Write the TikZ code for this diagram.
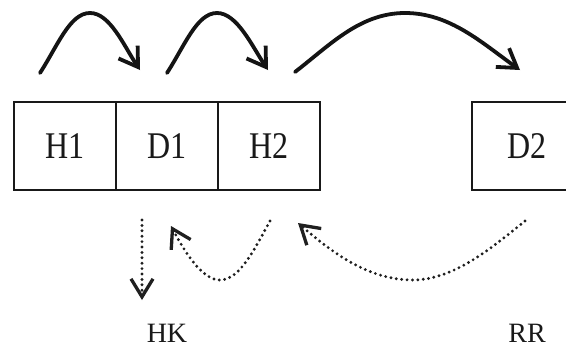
\documentclass[tikz,border=0pt]{standalone}
\usepackage{fontspec}
\usepackage{graphicx}
\setmainfont{Liberation Serif}
\usetikzlibrary{arrows.meta}
\begin{document}
\begin{tikzpicture}[x=1pt,y=-1pt,
  cell/.style={draw=black!90, line width=2pt, fill=white,
    minimum width=102pt, minimum height=88pt, inner sep=0pt,
    font=\fontsize{37.7}{40}\selectfont, text=black!90},
  lbl/.style={font=\fontsize{28}{30}\selectfont, text=black!90,
    anchor=base, inner sep=0pt},
  jump/.style={draw=black!92, line width=3.8pt, line cap=round,
    -{Straight Barb[length=18pt,width=23pt,line width=3.8pt]}},
  back/.style={draw=black!88, line width=3.2pt, line cap=round,
    dash pattern=on 0pt off 5.4pt,
    -{Straight Barb[length=18pt,width=22pt,line width=3.3pt]}}]
  \useasboundingbox (0,0) rectangle (566,351);

  % cells of the record
  \node[cell] (h1) at (65,146)  {\scalebox{0.85}[1]{H1}};
  \node[cell] (d1) at (167,146) {\scalebox{0.85}[1]{D1}};
  \node[cell] (h2) at (269,146) {\scalebox{0.85}[1]{H2}};
  \node[cell, minimum width=110pt] (d2) at (527,146) {\scalebox{0.85}[1]{D2}};

  % labels below
  \node[lbl] (hk) at (167,342) {HK};
  \node[lbl] (rr) at (527,342) {RR};

  % end points of the connectors
  \coordinate (t1s) at (40,73);   \coordinate (t1e) at (140,70);
  \coordinate (t2s) at (167,73);  \coordinate (t2e) at (268,70);
  \coordinate (t3s) at (295,72);  \coordinate (t3e) at (520,70);
  \coordinate (b1s) at (142,220); \coordinate (b1e) at (142,300);
  \coordinate (b2s) at (270,221); \coordinate (b2e) at (171,226);
  \coordinate (b3s) at (525,221); \coordinate (b3e) at (298,223);

  % forward jumps above the record
  \draw[jump] (t1s) .. controls (58,45) and (70,13) .. (90,13)
                    .. controls (110,13) and (124,46) .. (t1e);
  \draw[jump] (t2s) .. controls (185,45) and (197,13) .. (217,13)
                    .. controls (237,13) and (252,46) .. (t2e);
  \draw[jump] (t3s) .. controls (330,45) and (360,13) .. (405,13)
                    .. controls (450,13) and (482,43) .. (t3e);

  % dotted returns below the record
  \draw[back] (b1s) -- (b1e);
  \draw[back] (b2s) .. controls (255,248) and (240,280) .. (220,280)
                    .. controls (204,280) and (188,258) .. (b2e);
  \draw[back] (b3s) .. controls (495,245) and (455,280) .. (413,280)
                    .. controls (370,280) and (335,255) .. (b3e);
\end{tikzpicture}
\end{document}
